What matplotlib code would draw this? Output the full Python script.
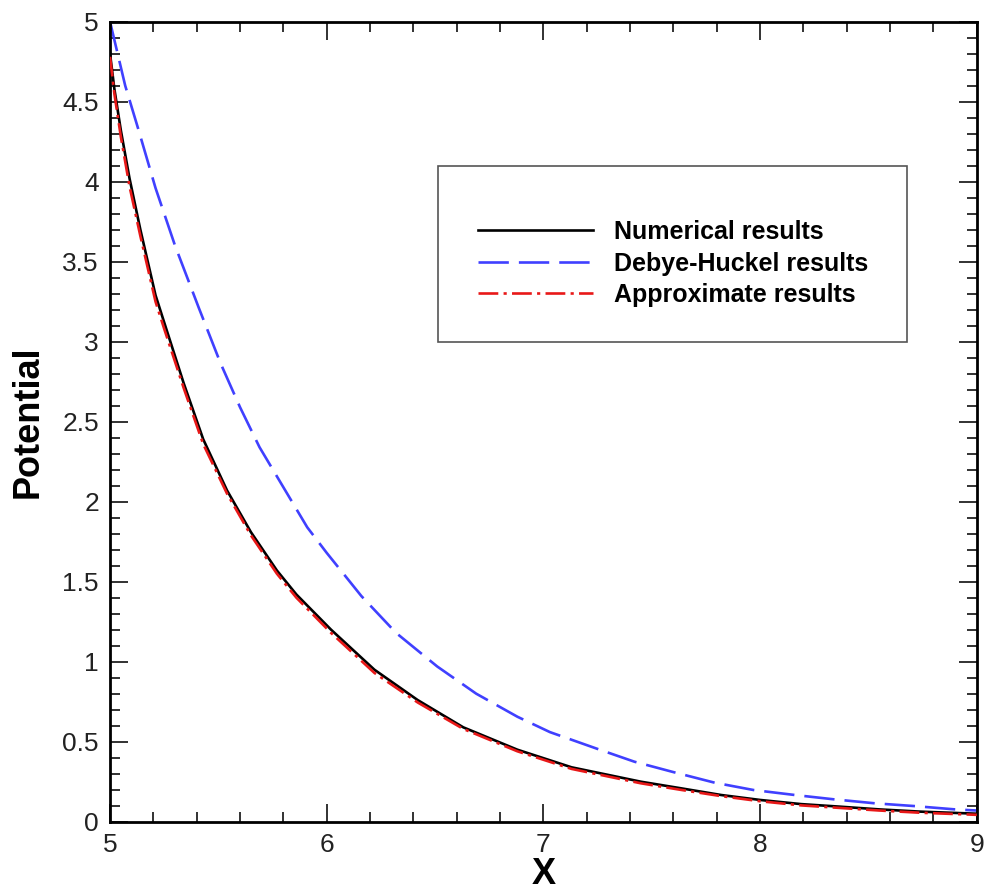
import matplotlib.pyplot as plt
from matplotlib.patches import Rectangle
from matplotlib.ticker import MultipleLocator, FormatStrFormatter

# values
x_num = [5.00, 5.02, 5.05, 5.09, 5.14, 5.21, 5.25, 5.34, 5.43, 5.54, 5.65, 5.77, 5.86,
         6.02, 6.22, 6.42, 6.63, 6.88, 7.13, 7.45, 7.63, 7.82, 8.00, 8.19, 8.37, 8.55,
         8.74, 9.00]
y_num = [4.80, 4.58, 4.32, 4.02, 3.70, 3.29, 3.12, 2.74, 2.39, 2.07, 1.81, 1.57, 1.42,
         1.20, 0.95, 0.76, 0.59, 0.45, 0.34, 0.25, 0.21, 0.167, 0.136, 0.11, 0.094, 0.077,
         0.063, 0.05]

x_dh = [5.00, 5.07, 5.13, 5.21, 5.30, 5.41, 5.51, 5.60, 5.69, 5.80, 5.91, 6.00, 6.16,
        6.32, 6.51, 6.69, 6.88, 7.03, 7.26, 7.42, 7.60, 7.79, 7.97, 8.16, 8.34, 8.53,
        8.71, 8.90, 9.00]
y_dh = [5.00, 4.60, 4.33, 3.96, 3.60, 3.21, 2.865, 2.59, 2.34, 2.09, 1.84, 1.68, 1.41,
        1.18, 0.97, 0.80, 0.656, 0.56, 0.45, 0.375, 0.31, 0.244, 0.198, 0.167, 0.14, 0.115,
        0.098, 0.077, 0.07]

x_app = x_num
y_app = [4.78, 4.55, 4.28, 3.97, 3.66, 3.25, 3.08, 2.71, 2.36, 2.05, 1.79, 1.55, 1.40,
         1.18, 0.93, 0.745, 0.58, 0.44, 0.33, 0.24, 0.20, 0.16, 0.128, 0.102, 0.086, 0.07,
         0.056, 0.043]

labels = ["Numerical results", "Debye-Huckel results", "Approximate results"]

plt.rcParams['font.family'] = ['Liberation Sans', 'DejaVu Sans']

fig = plt.figure(figsize=(9.85, 8.96), dpi=100)
ax = fig.add_axes([0.1117, 0.0829, 0.880, 0.893])

l1, = ax.plot(x_num, y_num, color='black', lw=1.9, zorder=3)
l2, = ax.plot(x_dh, y_dh, color='#4040ff', lw=1.9, dashes=(11.5, 3.8), zorder=2)
l3, = ax.plot(x_app, y_app, color='#e81818', lw=1.9, dashes=(7.5, 2.0, 1.2, 2.0), zorder=4)

ax.set_xlim(5, 9)
ax.set_ylim(0, 5)
ax.xaxis.set_major_locator(MultipleLocator(1))
ax.xaxis.set_minor_locator(MultipleLocator(0.2))
ax.yaxis.set_major_locator(MultipleLocator(0.5))
ax.yaxis.set_minor_locator(MultipleLocator(0.1))
ax.yaxis.set_major_formatter(FormatStrFormatter('%g'))

ax.tick_params(which='both', direction='in', top=True, right=True, labelsize=19,
               width=1.3, color='#222222', labelcolor='#222222')
ax.tick_params(which='major', length=13, pad=8)
ax.tick_params(which='minor', length=7)
for sp in ax.spines.values():
    sp.set_linewidth(2.0)

ax.set_xlabel('X', fontsize=26, fontweight='bold', labelpad=0)
ax.set_ylabel('Potential', fontsize=26, fontweight='bold', labelpad=12)

# legend box drawn separately, entries sit in its lower part
ax.add_patch(Rectangle((0.378, 0.6), 0.542, 0.22, transform=ax.transAxes,
                       fill=False, edgecolor='#555555', lw=1.2, zorder=5))
leg = ax.legend([l1, l2, l3], labels, loc='upper left', bbox_to_anchor=(0.398, 0.78),
                frameon=False, handlelength=4.6, handletextpad=0.85, labelspacing=0.3,
                prop={'weight': 'bold', 'size': 18})

fig.savefig('out.png', dpi=100)
